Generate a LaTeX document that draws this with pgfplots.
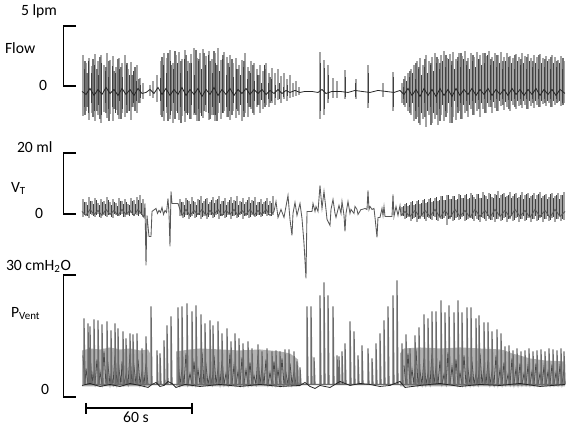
\documentclass[border=0pt]{standalone}
\usepackage{fontspec}
\setmainfont{Carlito}
\usepackage{pgfplots}
\pgfplotsset{compat=1.18}
\definecolor{lightTrace}{gray}{0.64}
\definecolor{midTrace}{gray}{0.45}
\definecolor{darkTrace}{gray}{0.25}
\definecolor{bandFill}{gray}{0.70}

\begin{document}
\begin{tikzpicture}[font=\fontsize{11}{13}\selectfont]
\begin{axis}[
  width=14cm, height=10.42cm, scale only axis,
  xmin=0, xmax=567, ymin=0, ymax=422, y dir=reverse,
  hide axis, clip=false, unbounded coords=jump,
]
% keeps the full picture size
\addplot[draw=none] coordinates {(0,0)(567,422)};

%% ---------------- Flow (baseline y = 88) ----------------
% light strokes
\addplot[lightTrace, line width=1.0pt] coordinates {
(83,52)(83,113)(83,nan)(86,60)(86,108)(86,nan)(89,55)(89,117)(89,nan)(92,63)(92,110)(92,nan)
(95,51)(95,118)(95,nan)(98,58)(98,112)(98,nan)(101,52)(101,120)(101,nan)(104,62)(104,109)(104,nan)
(107,50)(107,115)(107,nan)(110,57)(110,111)(110,nan)(113,53)(113,118)(113,nan)(116,64)(116,107)(116,nan)
(119,55)(119,116)(119,nan)(122,60)(122,110)(122,nan)(125,52)(125,114)(125,nan)(128,66)(128,108)(128,nan)
(131,59)(131,117)(131,nan)(134,70)(134,104)(134,nan)(137,62)(137,110)(137,nan)(140,75)(140,100)(140,nan)
(143,80)(143,96)(143,nan)(150,82)(150,93)(150,nan)(153,78)(153,95)(153,nan)(157,72)(157,99)(157,nan)
(161,58)(161,112)(161,nan)(164,50)(164,118)(164,nan)(167,55)(167,110)(167,nan)(170,47)(170,116)(170,nan)
(173,60)(173,120)(173,nan)(176,52)(176,108)(176,nan)(179,49)(179,117)(179,nan)(182,56)(182,113)(182,nan)
(185,47)(185,119)(185,nan)(188,58)(188,110)(188,nan)(191,51)(191,116)(191,nan)(194,45)(194,112)(194,nan)
(197,55)(197,118)(197,nan)(200,50)(200,110)(200,nan)(203,46)(203,115)(203,nan)(206,53)(206,109)(206,nan)
(209,48)(209,117)(209,nan)(212,56)(212,112)(212,nan)(215,50)(215,118)(215,nan)(218,45)(218,110)(218,nan)
(221,57)(221,116)(221,nan)(224,49)(224,108)(224,nan)(227,54)(227,114)(227,nan)(230,52)(230,117)(230,nan)
(233,60)(233,108)(233,nan)(236,55)(236,115)(236,nan)(239,62)(239,112)(239,nan)(242,57)(242,118)(242,nan)
(245,50)(245,110)(245,nan)(248,64)(248,114)(248,nan)(251,58)(251,106)(251,nan)(254,60)(254,112)(254,nan)
(257,66)(257,104)(257,nan)(260,62)(260,110)(260,nan)(263,68)(263,106)(263,nan)(266,60)(266,102)(266,nan)
(269,70)(269,104)(269,nan)(272,65)(272,100)(272,nan)(275,70)(275,102)(275,nan)(278,66)(278,97)(278,nan)
(281,73)(281,100)(281,nan)(284,70)(284,96)(284,nan)(287,76)(287,98)(287,nan)(290,72)(290,95)(290,nan)
(293,80)(293,94)(293,nan)(296,78)(296,93)(296,nan)(299,84)(299,92)(299,nan)
(320,49)(320,116)(320,nan)(324,57)(324,112)(324,nan)(328,62)(328,100)(328,nan)(333,75)(333,95)(333,nan)
(337,78)(337,95)(337,nan)(345,67)(345,96)(345,nan)(356,76)(356,96)(356,nan)(368,62)(368,105)(368,nan)
(383,80)(383,94)(383,nan)(393,69)(393,108)(393,nan)
(402,80)(402,100)(402,nan)(405,73)(405,104)(405,nan)(408,70)(408,108)(408,nan)(411,66)(411,112)(411,nan)
(414,62)(414,118)(414,nan)(417,58)(417,114)(417,nan)(420,55)(420,122)(420,nan)(423,62)(423,116)(423,nan)
(426,52)(426,124)(426,nan)(429,58)(429,112)(429,nan)(432,54)(432,120)(432,nan)(435,50)(435,116)(435,nan)
(438,56)(438,122)(438,nan)(441,52)(441,112)(441,nan)(444,48)(444,118)(444,nan)(447,55)(447,110)(447,nan)
(450,51)(450,120)(450,nan)(453,49)(453,114)(453,nan)(456,56)(456,117)(456,nan)(459,50)(459,108)(459,nan)
(462,53)(462,116)(462,nan)(465,48)(465,110)(465,nan)(468,55)(468,114)(468,nan)(471,50)(471,106)(471,nan)
(474,54)(474,112)(474,nan)(477,49)(477,108)(477,nan)(480,52)(480,114)(480,nan)(483,50)(483,106)(483,nan)
(486,53)(486,110)(486,nan)(489,48)(489,104)(489,nan)(492,54)(492,110)(492,nan)(495,50)(495,105)(495,nan)
(498,52)(498,108)(498,nan)(501,49)(501,103)(501,nan)(504,54)(504,107)(504,nan)(507,50)(507,104)(507,nan)
(510,53)(510,108)(510,nan)(513,55)(513,102)(513,nan)(516,51)(516,106)(516,nan)(519,54)(519,103)(519,nan)
(522,50)(522,105)(522,nan)(525,53)(525,102)(525,nan)(528,51)(528,106)(528,nan)(531,55)(531,103)(531,nan)
(534,52)(534,105)(534,nan)(537,54)(537,102)(537,nan)(540,51)(540,104)(540,nan)(543,55)(543,101)(543,nan)
(546,53)(546,103)(546,nan)(549,56)(549,100)(549,nan)(552,52)(552,104)(552,nan)(555,54)(555,102)(555,nan)
(558,57)(558,99)(558,nan)(561,53)(561,103)(561,nan)(564,58)(564,100)(564,nan)
};
% medium strokes
\addplot[midTrace, line width=0.8pt] coordinates {
(85,58)(85,112)(85,nan)(87,70)(87,104)(87,nan)(93,56)(93,114)(93,nan)(97,66)(97,108)(97,nan)
(100,54)(100,116)(100,nan)(106,64)(106,110)(106,nan)(109,58)(109,118)(109,nan)(114,68)(114,106)(114,nan)
(118,56)(118,112)(118,nan)(121,64)(121,116)(121,nan)(127,60)(127,110)(127,nan)(132,72)(132,104)(132,nan)
(135,64)(135,108)(135,nan)(139,76)(139,100)(139,nan)
(162,54)(162,114)(162,nan)(168,50)(168,118)(168,nan)(171,62)(171,108)(171,nan)(175,48)(175,116)(175,nan)
(181,58)(181,120)(181,nan)(186,52)(186,110)(186,nan)(190,60)(190,116)(190,nan)(196,47)(196,112)(196,nan)
(199,56)(199,118)(199,nan)(204,50)(204,108)(204,nan)(210,58)(210,116)(210,nan)(214,48)(214,112)(214,nan)
(217,62)(217,118)(217,nan)(223,52)(223,110)(223,nan)(228,60)(228,114)(228,nan)(232,56)(232,112)(232,nan)
(238,66)(238,108)(238,nan)(244,58)(244,114)(244,nan)(249,68)(249,104)(249,nan)(253,62)(253,110)(253,nan)
(259,72)(259,102)(259,nan)(265,66)(265,104)(265,nan)(270,74)(270,100)(270,nan)
(404,76)(404,102)(404,nan)(410,68)(410,110)(410,nan)(416,60)(416,116)(416,nan)(419,64)(419,120)(419,nan)
(425,56)(425,114)(425,nan)(431,60)(431,122)(431,nan)(437,54)(437,112)(437,nan)(440,60)(440,118)(440,nan)
(446,52)(446,114)(446,nan)(452,58)(452,120)(452,nan)(458,54)(458,110)(458,nan)(461,50)(461,116)(461,nan)
(467,58)(467,108)(467,nan)(473,52)(473,112)(473,nan)(479,56)(479,106)(479,nan)(485,50)(485,110)(485,nan)
(491,56)(491,104)(491,nan)(497,52)(497,108)(497,nan)(503,58)(503,102)(503,nan)(509,54)(509,106)(509,nan)
(515,52)(515,104)(515,nan)(521,56)(521,102)(521,nan)(527,54)(527,106)(527,nan)(533,58)(533,100)(533,nan)
(539,52)(539,104)(539,nan)(545,56)(545,100)(545,nan)(551,54)(551,104)(551,nan)(557,58)(557,100)(557,nan)
(563,55)(563,102)(563,nan)
};
% dark strokes
\addplot[darkTrace, line width=0.6pt] coordinates {
(84.5,66)(84.5,104)(84.5,nan)(88,58)(88,110)(88,nan)(91,70)(91,100)(91,nan)(94.5,62)(94.5,108)(94.5,nan)
(98,72)(98,102)(98,nan)(101.5,60)(101.5,112)(101.5,nan)(105,68)(105,100)(105,nan)(108.5,74)(108.5,106)(108.5,nan)
(112,63)(112,104)(112,nan)(115.5,70)(115.5,110)(115.5,nan)(119,66)(119,98)(119,nan)(122.5,74)(122.5,106)(122.5,nan)
(126,62)(126,102)(126,nan)(129.5,72)(129.5,108)(129.5,nan)(133,68)(133,100)(133,nan)(136.5,78)(136.5,98)(136.5,nan)
(140,82)(140,95)(140,nan)(160,75)(160,98)(160,nan)(163,62)(163,108)(163,nan)(166.5,70)(166.5,104)(166.5,nan)
(170,58)(170,112)(170,nan)(173.5,66)(173.5,100)(173.5,nan)(177,60)(177,110)(177,nan)(180.5,70)(180.5,104)(180.5,nan)
(184,56)(184,108)(184,nan)(187.5,68)(187.5,112)(187.5,nan)(191,60)(191,102)(191,nan)(194.5,72)(194.5,110)(194.5,nan)
(198,58)(198,106)(198,nan)(201.5,66)(201.5,113)(201.5,nan)(205,62)(205,102)(205,nan)(208.5,52)(208.5,110)(208.5,nan)
(212,70)(212,104)(212,nan)(215.5,60)(215.5,112)(215.5,nan)(219,68)(219,100)(219,nan)(222.5,56)(222.5,110)(222.5,nan)
(226,72)(226,104)(226,nan)(229.5,64)(229.5,108)(229.5,nan)(233,74)(233,100)(233,nan)(236.5,66)(236.5,106)(236.5,nan)
(240,72)(240,102)(240,nan)(243.5,64)(243.5,108)(243.5,nan)(247,76)(247,100)(247,nan)(250.5,70)(250.5,104)(250.5,nan)
(254,78)(254,98)(254,nan)(257.5,72)(257.5,102)(257.5,nan)(261,80)(261,97)(261,nan)(264.5,62)(264.5,100)(264.5,nan)
(268,80)(268,96)(268,nan)(271.5,76)(271.5,98)(271.5,nan)(275,82)(275,95)(275,nan)(279,80)(279,96)(279,nan)
(283,84)(283,94)(283,nan)(287,82)(287,93)(287,nan)
(320.5,60)(320.5,108)(320.5,nan)(324.5,65)(324.5,106)(324.5,nan)(328.5,72)(328.5,96)(328.5,nan)
(345.5,74)(345.5,94)(345.5,nan)(355,80)(355,94)(355,nan)(368.5,70)(368.5,100)(368.5,nan)(393.5,74)(393.5,104)(393.5,nan)
(403.5,84)(403.5,96)(403.5,nan)(406.5,78)(406.5,100)(406.5,nan)(409.5,74)(409.5,104)(409.5,nan)(412.5,70)(412.5,100)(412.5,nan)
(415.5,76)(415.5,108)(415.5,nan)(418.5,66)(418.5,104)(418.5,nan)(421.5,72)(421.5,110)(421.5,nan)(424.5,64)(424.5,100)(424.5,nan)
(427.5,70)(427.5,108)(427.5,nan)(430.5,62)(430.5,104)(430.5,nan)(433.5,68)(433.5,110)(433.5,nan)(436.5,60)(436.5,100)(436.5,nan)
(439.5,66)(439.5,106)(439.5,nan)(442.5,58)(442.5,102)(442.5,nan)(445.5,64)(445.5,108)(445.5,nan)(448.5,56)(448.5,100)(448.5,nan)
(451.5,62)(451.5,104)(451.5,nan)(454.5,66)(454.5,98)(454.5,nan)(457.5,58)(457.5,104)(457.5,nan)(460.5,64)(460.5,100)(460.5,nan)
(463.5,56)(463.5,102)(463.5,nan)(466.5,62)(466.5,98)(466.5,nan)(469.5,66)(469.5,102)(469.5,nan)(472.5,58)(472.5,98)(472.5,nan)
(475.5,64)(475.5,100)(475.5,nan)(478.5,56)(478.5,97)(478.5,nan)(481.5,62)(481.5,100)(481.5,nan)(484.5,60)(484.5,96)(484.5,nan)
(487.5,52)(487.5,100)(487.5,nan)(490.5,62)(490.5,97)(490.5,nan)(493.5,58)(493.5,99)(493.5,nan)(496.5,64)(496.5,96)(496.5,nan)
(499.5,60)(499.5,98)(499.5,nan)(502.5,66)(502.5,96)(502.5,nan)(505.5,58)(505.5,99)(505.5,nan)(508.5,64)(508.5,97)(508.5,nan)
(511.5,60)(511.5,98)(511.5,nan)(514.5,66)(514.5,96)(514.5,nan)(517.5,58)(517.5,98)(517.5,nan)(520.5,62)(520.5,96)(520.5,nan)
(523.5,60)(523.5,98)(523.5,nan)(526.5,66)(526.5,96)(526.5,nan)(529.5,58)(529.5,98)(529.5,nan)(532.5,64)(532.5,96)(532.5,nan)
(535.5,60)(535.5,98)(535.5,nan)(538.5,66)(538.5,96)(538.5,nan)(541.5,60)(541.5,98)(541.5,nan)(544.5,64)(544.5,96)(544.5,nan)
(547.5,58)(547.5,98)(547.5,nan)(550.5,66)(550.5,96)(550.5,nan)(553.5,60)(553.5,98)(553.5,nan)(556.5,64)(556.5,96)(556.5,nan)
(559.5,60)(559.5,98)(559.5,nan)(562.5,66)(562.5,100)(562.5,nan)
};
% baseline wiggle
\addplot[black!85, line width=0.55pt] coordinates {
(82,88)(86,91)(90,85)(94,92)(98,86)(102,91)(106,84)(110,90)(114,86)(118,92)(122,85)(126,91)
(130,86)(134,92)(138,85)(142,90)(146,89)(150,86)(154,90)(158,84)(162,91)(166,85)(170,92)
(174,86)(178,91)(182,84)(186,92)(190,86)(194,91)(198,85)(202,93)(206,86)(210,91)(214,84)
(218,92)(222,86)(226,91)(230,85)(234,92)(238,86)(242,90)(246,85)(250,91)(254,86)(258,90)
(262,86)(266,91)(270,87)(274,90)(278,86)(282,90)(286,87)(290,89)(295,87)(300,89)(305,88)
(312,88)(318,89)(322,86)(326,90)(332,88)(340,88)(348,89)(355,87)(362,88)(370,89)(378,87)
(386,88)(394,89)(400,87)(404,91)(408,85)(412,92)(416,86)(420,93)(424,85)(428,92)(432,86)
(436,93)(440,85)(444,92)(448,86)(452,93)(456,85)(460,92)(464,86)(468,91)(472,85)(476,92)
(480,86)(484,91)(488,85)(492,92)(496,86)(500,91)(504,86)(508,92)(512,85)(516,91)(520,86)
(524,92)(528,86)(532,91)(536,85)(540,92)(544,86)(548,91)(552,86)(556,92)(560,86)(565,90)
};

%% ---------------- Tidal volume (baseline y = 210) ----------------
% light strokes
\addplot[lightTrace, line width=0.9pt] coordinates {
(83,196)(83,214)(83,nan)(86,199)(86,212)(86,nan)(89,194)(89,215)(89,nan)(92,198)(92,212)(92,nan)
(95,195)(95,214)(95,nan)(98,200)(98,211)(98,nan)(101,196)(101,215)(101,nan)(104,198)(104,212)(104,nan)
(107,194)(107,214)(107,nan)(110,199)(110,211)(110,nan)(113,196)(113,215)(113,nan)(116,200)(116,212)(116,nan)
(119,195)(119,213)(119,nan)(122,198)(122,211)(122,nan)(125,196)(125,214)(125,nan)(128,201)(128,212)(128,nan)
(131,195)(131,210)(131,nan)(134,197)(134,213)(134,nan)(137,194)(137,212)(137,nan)(140,192)(140,211)(140,nan)
(143,196)(143,214)(143,nan)
(180,196)(180,213)(180,nan)(183,199)(183,215)(183,nan)(186,195)(186,212)(186,nan)(189,198)(189,216)(189,nan)
(192,194)(192,213)(192,nan)(195,199)(195,215)(195,nan)(198,196)(198,212)(198,nan)(201,193)(201,216)(201,nan)
(204,198)(204,213)(204,nan)(207,195)(207,216)(207,nan)(210,199)(210,212)(210,nan)(213,194)(213,215)(213,nan)
(216,197)(216,212)(216,nan)(219,193)(219,216)(219,nan)(222,198)(222,213)(222,nan)(225,195)(225,215)(225,nan)
(228,199)(228,212)(228,nan)(231,194)(231,216)(231,nan)(234,197)(234,213)(234,nan)(237,193)(237,215)(237,nan)
(240,198)(240,212)(240,nan)(243,195)(243,216)(243,nan)(246,199)(246,213)(246,nan)(249,194)(249,215)(249,nan)
(252,197)(252,212)(252,nan)(255,194)(255,214)(255,nan)(258,199)(258,212)(258,nan)(261,196)(261,214)(261,nan)
(264,199)(264,211)(264,nan)(267,195)(267,213)(267,nan)(270,198)(270,210)(270,nan)(273,193)(273,212)(273,nan)
(402,204)(402,213)(402,nan)(405,201)(405,216)(405,nan)(408,203)(408,214)(408,nan)(411,199)(411,218)(411,nan)
(414,202)(414,215)(414,nan)(417,198)(417,219)(417,nan)(420,201)(420,216)(420,nan)(423,197)(423,214)(423,nan)
(426,200)(426,218)(426,nan)(429,196)(429,215)(429,nan)(432,199)(432,217)(432,nan)(435,195)(435,214)(435,nan)
(438,198)(438,218)(438,nan)(441,193)(441,216)(441,nan)(444,197)(444,215)(444,nan)(447,192)(447,222)(447,nan)
(450,196)(450,216)(450,nan)(453,193)(453,218)(453,nan)(456,197)(456,215)(456,nan)(459,191)(459,217)(459,nan)
(462,195)(462,214)(462,nan)(465,192)(465,218)(465,nan)(468,196)(468,216)(468,nan)(471,190)(471,215)(471,nan)
(474,194)(474,218)(474,nan)(477,191)(477,216)(477,nan)(480,195)(480,219)(480,nan)(483,189)(483,215)(483,nan)
(486,193)(486,218)(486,nan)(489,190)(489,216)(489,nan)(492,194)(492,217)(492,nan)(495,191)(495,219)(495,nan)
(498,188)(498,216)(498,nan)(501,192)(501,218)(501,nan)(504,190)(504,215)(504,nan)(507,193)(507,219)(507,nan)
(510,189)(510,216)(510,nan)(513,193)(513,218)(513,nan)(516,190)(516,215)(516,nan)(519,194)(519,219)(519,nan)
(522,189)(522,216)(522,nan)(525,192)(525,218)(525,nan)(528,190)(528,215)(528,nan)(531,193)(531,219)(531,nan)
(534,190)(534,216)(534,nan)(537,192)(537,218)(537,nan)(540,189)(540,215)(540,nan)(543,193)(543,219)(543,nan)
(546,191)(546,216)(546,nan)(549,194)(549,218)(549,nan)(552,190)(552,215)(552,nan)(555,193)(555,219)(555,nan)
(558,190)(558,216)(558,nan)(561,192)(561,218)(561,nan)(564,189)(564,217)(564,nan)
};
% dark strokes
\addplot[darkTrace, line width=0.55pt] coordinates {
(84.5,199)(84.5,212)(84.5,nan)(87.5,202)(87.5,213)(87.5,nan)(90.5,198)(90.5,211)(90.5,nan)(93.5,201)(93.5,213)(93.5,nan)
(96.5,197)(96.5,212)(96.5,nan)(99.5,202)(99.5,214)(99.5,nan)(102.5,199)(102.5,211)(102.5,nan)(105.5,201)(105.5,213)(105.5,nan)
(108.5,197)(108.5,212)(108.5,nan)(111.5,202)(111.5,214)(111.5,nan)(114.5,199)(114.5,211)(114.5,nan)(117.5,203)(117.5,213)(117.5,nan)
(120.5,198)(120.5,212)(120.5,nan)(123.5,201)(123.5,214)(123.5,nan)(126.5,199)(126.5,211)(126.5,nan)(129.5,202)(129.5,213)(129.5,nan)
(132.5,198)(132.5,212)(132.5,nan)(135.5,201)(135.5,211)(135.5,nan)(138.5,197)(138.5,213)(138.5,nan)(141.5,200)(141.5,212)(141.5,nan)
(181.5,199)(181.5,212)(181.5,nan)(184.5,202)(184.5,214)(184.5,nan)(187.5,197)(187.5,212)(187.5,nan)(190.5,201)(190.5,214)(190.5,nan)
(193.5,198)(193.5,211)(193.5,nan)(196.5,202)(196.5,214)(196.5,nan)(199.5,197)(199.5,212)(199.5,nan)(202.5,200)(202.5,214)(202.5,nan)
(205.5,196)(205.5,211)(205.5,nan)(208.5,201)(208.5,214)(208.5,nan)(211.5,197)(211.5,212)(211.5,nan)(214.5,200)(214.5,214)(214.5,nan)
(217.5,196)(217.5,211)(217.5,nan)(220.5,201)(220.5,213)(220.5,nan)(223.5,198)(223.5,212)(223.5,nan)(226.5,202)(226.5,214)(226.5,nan)
(229.5,197)(229.5,211)(229.5,nan)(232.5,200)(232.5,213)(232.5,nan)(235.5,198)(235.5,212)(235.5,nan)(238.5,202)(238.5,214)(238.5,nan)
(241.5,199)(241.5,211)(241.5,nan)(244.5,201)(244.5,213)(244.5,nan)(247.5,197)(247.5,212)(247.5,nan)(250.5,200)(250.5,214)(250.5,nan)
(253.5,198)(253.5,211)(253.5,nan)(256.5,202)(256.5,213)(256.5,nan)(259.5,199)(259.5,212)(259.5,nan)(262.5,201)(262.5,213)(262.5,nan)
(265.5,198)(265.5,211)(265.5,nan)(268.5,202)(268.5,212)(268.5,nan)(271.5,200)(271.5,213)(271.5,nan)
(403.5,203)(403.5,213)(403.5,nan)(406.5,200)(406.5,215)(406.5,nan)(409.5,202)(409.5,213)(409.5,nan)(412.5,198)(412.5,216)(412.5,nan)
(415.5,201)(415.5,214)(415.5,nan)(418.5,197)(418.5,216)(418.5,nan)(421.5,200)(421.5,213)(421.5,nan)(424.5,196)(424.5,216)(424.5,nan)
(427.5,199)(427.5,214)(427.5,nan)(430.5,195)(430.5,216)(430.5,nan)(433.5,198)(433.5,213)(433.5,nan)(436.5,194)(436.5,217)(436.5,nan)
(439.5,197)(439.5,214)(439.5,nan)(442.5,193)(442.5,216)(442.5,nan)(445.5,197)(445.5,213)(445.5,nan)(448.5,192)(448.5,216)(448.5,nan)
(451.5,196)(451.5,214)(451.5,nan)(454.5,193)(454.5,217)(454.5,nan)(457.5,196)(457.5,214)(457.5,nan)(460.5,192)(460.5,216)(460.5,nan)
(463.5,195)(463.5,213)(463.5,nan)(466.5,191)(466.5,217)(466.5,nan)(469.5,195)(469.5,214)(469.5,nan)(472.5,192)(472.5,216)(472.5,nan)
(475.5,196)(475.5,213)(475.5,nan)(478.5,191)(478.5,217)(478.5,nan)(481.5,195)(481.5,214)(481.5,nan)(484.5,192)(484.5,216)(484.5,nan)
(487.5,196)(487.5,213)(487.5,nan)(490.5,191)(490.5,217)(490.5,nan)(493.5,195)(493.5,214)(493.5,nan)(496.5,192)(496.5,216)(496.5,nan)
(499.5,195)(499.5,213)(499.5,nan)(502.5,191)(502.5,217)(502.5,nan)(505.5,194)(505.5,214)(505.5,nan)(508.5,192)(508.5,216)(508.5,nan)
(511.5,195)(511.5,213)(511.5,nan)(514.5,191)(514.5,217)(514.5,nan)(517.5,195)(517.5,214)(517.5,nan)(520.5,192)(520.5,216)(520.5,nan)
(523.5,196)(523.5,213)(523.5,nan)(526.5,191)(526.5,217)(526.5,nan)(529.5,195)(529.5,214)(529.5,nan)(532.5,192)(532.5,216)(532.5,nan)
(535.5,196)(535.5,213)(535.5,nan)(538.5,191)(538.5,217)(538.5,nan)(541.5,195)(541.5,214)(541.5,nan)(544.5,192)(544.5,216)(544.5,nan)
(547.5,196)(547.5,213)(547.5,nan)(550.5,191)(550.5,217)(550.5,nan)(553.5,195)(553.5,214)(553.5,nan)(556.5,192)(556.5,216)(556.5,nan)
(559.5,196)(559.5,213)(559.5,nan)(562.5,192)(562.5,216)(562.5,nan)
};
% baseline and slow events (connected trace)
\addplot[black!65, line width=0.6pt] coordinates {
(82,208)(86,212)(90,206)(94,211)(98,207)(102,212)(106,206)(110,211)(114,207)(118,212)(122,206)
(126,211)(130,207)(134,212)(138,206)(142,211)(144,214)(145,200)(146,262)(147,212)(149,233)(151,233)
(152,208)(156,205)(157.5,210)(159,207)(160.5,209)(162,204)(163.5,211)(165,207)(166.5,209)(168,195)
(169,210)(170,243)(171,188)(172,200)(178,200)(182,212)(186,206)(190,212)(194,207)(198,211)(202,206)
(206,212)(210,207)(214,211)(218,206)(222,212)(226,207)(230,211)(234,206)(238,212)(242,207)(246,211)
(250,206)(254,212)(258,207)(262,211)(266,206)(270,212)(274,208)(276,198)(278,214)(281,206)(284,214)
(288,192)(290,216)(292,232)(293,210)(295,199)(297,212)(300,200)(302,215)(304,240)(306,275)
(307,208)(312,208)(313,200)(315,208)(316,203)(318,208)(320,182)(322,205)(324,188)(326,206)
(327,216)(330,222)(331,206)(333,196)(335,210)(336,214)(338,206)(339,202)(341,210)(342,198)
(344,212)(345,228)(346,210)(348,198)(350,210)(351,206)(354,210)(355,203)(357,206)(358,211)
(361,206)(362,206)(365,205)(367,206)(368,187)(369,206)(370,203)(372,206)(374,205)(375,214)
(377,234)(378,214)(380,214)(382,205)(383,212)(384,203)(385,213)(392,213)(393,191)(394,213)
(396,203)(398,212)(400,202)(401,212)(405,208)(410,213)(415,207)(420,214)(425,207)(430,213)
(435,206)(440,214)(445,207)(450,214)(455,206)(460,213)(465,207)(470,214)(475,206)(480,213)
(485,207)(490,214)(495,206)(500,213)(505,207)(510,214)(515,206)(520,213)(525,207)(530,214)
(535,206)(540,213)(545,207)(550,214)(555,206)(560,213)(565,208)
};

%% ---------------- Ventilator pressure (baseline y = 382) ----------------
% pressure-support bands
\addplot[fill=bandFill, draw=none] coordinates {
(82,383)(82,347)(90,345)(100,346)(110,344)(120,346)(130,345)(140,347)(148,346)(150,350)(150,383)};
\addplot[fill=bandFill, draw=none] coordinates {
(176,383)(176,348)(190,346)(200,345)(220,346)(240,347)(260,346)(270,347)(280,348)(290,350)(298,356)(300,383)};
\addplot[fill=bandFill, draw=none] coordinates {
(400,383)(400,350)(404,345)(420,344)(440,345)(460,344)(480,345)(500,346)(505,347)(512,350)
(520,352)(530,355)(545,357)(565,358)(565,383)};
% breaths within the bands
\addplot[black!72, line width=0.55pt] coordinates {
(83,352)(85,381)(86,365)(88,381)(90,350)(92,381)(93,370)(95,381)(97,356)(99,381)(100,368)(102,381)
(104,348)(106,381)(108,362)(110,381)(111,372)(113,381)(115,352)(117,381)(119,366)(121,381)
(122,358)(124,381)(126,371)(128,381)(130,350)(132,381)(134,363)(136,381)(138,356)(140,381)
(142,368)(144,381)(146,360)(148,381)
(149,nan)
(178,354)(180,381)(182,366)(184,381)(186,350)(188,381)(190,370)(192,381)(194,358)(196,381)
(198,366)(200,381)(202,349)(204,381)(206,362)(208,381)(210,371)(212,381)(214,352)(216,381)
(218,365)(220,381)(222,357)(224,381)(226,370)(228,381)(230,350)(232,381)(234,362)(236,381)
(238,368)(240,381)(242,354)(244,381)(246,366)(248,381)(250,359)(252,381)(254,372)(256,381)
(258,351)(260,381)(262,364)(264,381)(266,356)(268,381)(270,369)(272,381)(274,358)(276,381)
(278,366)(280,381)(282,355)(284,381)(286,370)(288,381)(290,360)(292,381)(294,368)(296,381)
(297,nan)
(404,362)(406,381)(408,350)(410,381)(412,366)(414,381)(416,346)(418,381)(420,368)(422,381)
(424,355)(426,381)(428,370)(430,381)(432,350)(434,381)(436,364)(438,381)(440,357)(442,381)
(444,371)(446,381)(448,349)(450,381)(452,363)(454,381)(456,356)(458,381)(460,369)(462,381)
(464,352)(466,381)(468,366)(470,381)(472,358)(474,381)(476,370)(478,381)(480,350)(482,381)
(484,364)(486,381)(488,357)(490,381)(492,368)(494,381)(496,352)(498,381)(500,366)(502,381)
(504,359)(506,381)(508,371)(510,381)(512,355)(514,381)(516,365)(518,381)(520,360)(522,381)
(524,370)(526,381)(528,362)(530,381)(532,368)(534,381)(536,360)(538,381)(540,370)(542,381)
(544,363)(546,381)(548,368)(550,381)(552,361)(554,381)(556,369)(558,381)(560,362)(562,381)
(564,366)(565,381)
};
% peak pressures
\addplot[black!58, line width=0.85pt] coordinates {
(84,381)(84,315)(85,381)(88,381)(88,320)(89,381)(90,381)(90,323)(91,381)(94,381)(94,316)(95,381)
(98,381)(98,317)(99,381)(102,381)(102,321)(103,381)(107,381)(107,318)(108,381)(111,381)(111,327)(112,381)
(115,381)(115,320)(116,381)(118,381)(118,325)(119,381)(123,381)(123,328)(124,381)(126,381)(126,335)(127,381)
(130,381)(130,330)(131,381)(133,381)(133,331)(134,381)(137,381)(137,330)(138,381)(142,381)(142,345)(143,381)
(146,381)(146,333)(147,381)(151,381)(151,303)(152,381)(157,381)(157,347)(158,381)(160,381)(160,350)(161,381)
(164,381)(164,337)(165,381)(167,381)(167,322)(168,381)(171,381)(171,313)(172,381)
(178,381)(178,304)(179,381)(182,381)(182,303)(183,381)(187,381)(187,300)(188,381)(192,381)(192,308)(193,381)
(196,381)(196,302)(197,381)(201,381)(201,311)(202,381)(205,381)(205,320)(206,381)(210,381)(210,317)(211,381)
(213,381)(213,322)(214,381)(218,381)(218,318)(219,381)(222,381)(222,330)(223,381)(227,381)(227,325)(228,381)
(231,381)(231,338)(232,381)(235,381)(235,330)(236,381)(239,381)(239,335)(240,381)(243,381)(243,340)(244,381)
(248,381)(248,338)(249,381)(252,381)(252,345)(253,381)(258,381)(258,341)(259,381)(262,381)(262,348)(263,381)
(267,381)(267,345)(268,381)(272,381)(272,348)(273,381)(276,381)(276,347)(277,381)(280,381)(280,348)(281,381)
(285,381)(285,346)(286,381)(289,381)(289,346)(290,381)(294,381)(294,348)(295,381)(297,381)(297,358)(298,381)
(300,381)(300,364)(301,381)
(307,381)(307,303)(308,381)(311,381)(311,303)(312,381)(314,381)(314,354)(315,381)(320,381)(320,292)(321,381)
(324,381)(324,279)(325,381)(328,381)(328,292)(329,381)(333,381)(333,303)(334,381)(337,381)(337,352)(338,381)
(339,381)(339,353)(340,381)(342,381)(342,348)(343,381)(345,381)(345,340)(346,381)(350,381)(350,318)(351,381)
(354,381)(354,328)(355,381)(358,381)(358,352)(359,381)(362,381)(362,342)(363,381)(368,381)(368,345)(369,381)
(372,381)(372,355)(373,381)(376,381)(376,340)(377,381)(380,381)(380,330)(381,381)(384,381)(384,317)(385,381)
(388,381)(388,303)(389,381)(393,381)(393,292)(394,381)(397,381)(397,277)(398,381)
(402,381)(402,340)(403,381)(406,381)(406,331)(407,381)(410,381)(410,345)(411,381)(415,381)(415,332)(416,381)
(419,381)(419,324)(420,381)(424,381)(424,311)(425,381)(428,381)(428,315)(429,381)(432,381)(432,308)(433,381)
(436,381)(436,308)(437,381)(441,381)(441,297)(442,381)(445,381)(445,309)(446,381)(449,381)(449,302)(450,381)
(454,381)(454,309)(455,381)(458,381)(458,297)(459,381)(462,381)(462,309)(463,381)(467,381)(467,304)(468,381)
(471,381)(471,304)(472,381)(476,381)(476,315)(477,381)(479,381)(479,312)(480,381)(484,381)(484,319)(485,381)
(488,381)(488,319)(489,381)(492,381)(492,328)(493,381)(497,381)(497,326)(498,381)(501,381)(501,330)(502,381)
(505,381)(505,343)(506,381)(509,381)(509,342)(510,381)(513,381)(513,347)(514,381)(517,381)(517,345)(518,381)
(521,381)(521,348)(522,381)(525,381)(525,347)(526,381)(529,381)(529,345)(530,381)(533,381)(533,348)(534,381)
(537,381)(537,347)(538,381)(541,381)(541,346)(542,381)(545,381)(545,348)(546,381)(549,381)(549,345)(550,381)
(553,381)(553,346)(554,381)(557,381)(557,347)(558,381)(561,381)(561,345)(562,381)(564,381)(564,348)(565,381)
};
% baseline
\addplot[black!85, line width=0.55pt] coordinates {
(82,382)(90,380)(100,383)(110,381)(120,383)(130,380)(140,382)(148,384)(152,381)(156,379)(160,383)
(164,382)(168,378)(172,380)(176,384)(185,381)(200,383)(220,381)(240,383)(260,381)(280,383)(300,382)
(305,379)(310,383)(315,385)(320,382)(330,384)(335,381)(340,378)(345,380)(350,382)(360,380)(370,381)
(380,383)(390,382)(400,378)(405,384)(420,382)(440,380)(460,383)(480,381)(500,382)(520,380)(540,383)(565,381)
};

%% ---------------- scale bars ----------------
\addplot[black, line width=1.4pt] coordinates {(76,22.7)(63.5,22.7)(63.5,83)(76,83)};
\addplot[black, line width=1.4pt] coordinates {(76,150)(63.5,150)(63.5,210.5)(76,210.5)};
\addplot[black, line width=1.4pt] coordinates {(76,272)(63.5,272)(63.5,393.5)(76,393.5)};
\addplot[black, line width=1.4pt] coordinates {(86,405)(192,405)};
\addplot[black, line width=1.4pt] coordinates {(86,399.5)(86,410.5)};
\addplot[black, line width=1.4pt] coordinates {(192,399.5)(192,410.5)};

%% ---------------- labels ----------------
\node[anchor=west] at (axis cs:16,8) {5 lpm};
\node[anchor=west] at (axis cs:0,45) {Flow};
\node at (axis cs:43,82) {0};
\node[anchor=west] at (axis cs:12,144) {20 ml};
\node[anchor=west] at (axis cs:6,185) {V\textsubscript{T}};
\node at (axis cs:39,210) {0};
\node[anchor=west] at (axis cs:1,263) {30 cmH\textsubscript{2}O};
\node[anchor=west] at (axis cs:6,310) {P\textsubscript{Vent}};
\node at (axis cs:45,386) {0};
\node at (axis cs:136,414) {60 s};
\end{axis}
\end{tikzpicture}
\end{document}
